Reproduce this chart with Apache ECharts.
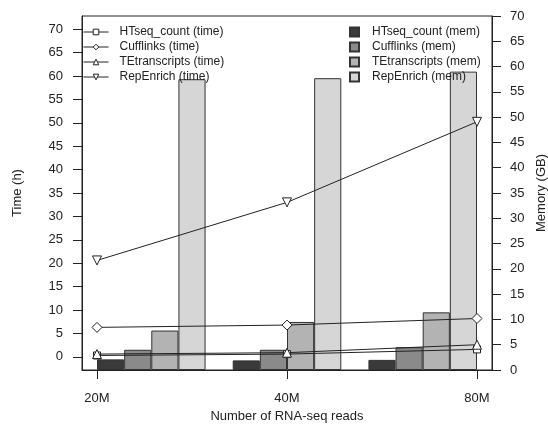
<!DOCTYPE html>
<html>
<head>
<meta charset="utf-8">
<script src="https://cdn.jsdelivr.net/npm/echarts@6/dist/echarts.min.js"></script>
<style>
  html, body { margin: 0; padding: 0; background: #fff; }
  #main { width: 548px; height: 429px; }
</style>
</head>
<body>
<div id="main"></div>
<script>
// reads on the x axis
var readLabels = ['20M', '40M', '80M'];

// running time (h)
var timeHTseq = [0.3, 0.6, 1.6];
var timeCufflinks = [6.3, 6.8, 8.2];
var timeTEtranscripts = [0.6, 0.9, 2.6];
var timeRepEnrich = [20.6, 33.0, 50.2];

// memory (GB)
var memHTseq = [2.1, 1.9, 2.0];
var memCufflinks = [4.0, 4.0, 4.5];
var memTEtranscripts = [7.8, 9.5, 11.4];
var memRepEnrich = [57.5, 57.7, 59.0];

var timeTicks = [0, 5, 10, 15, 20, 25, 30, 35, 40, 45, 50, 55, 60, 65, 70];

var FONT = 'Liberation Sans, Arial, sans-serif';
var INK = '#222';

// bar slots: 4 bars per group, one empty slot between groups
var PER_GROUP = 4;
var STEP = PER_GROUP + 1;
var nGroups = readLabels.length;
var lastSlot = (nGroups - 1) * STEP + PER_GROUP;
function slotX(g, i) { return g * STEP + i + 0.5; }
// line points: left edge of first group, centre of middle, right edge of last
var linePos = readLabels.map(function (r, g) {
    return g * lastSlot / (nGroups - 1);
});
var pad = 15 / 27.143;

function barSeries(name, values, idx, color) {
    return {
        name: name,
        type: 'bar',
        xAxisIndex: 0,
        yAxisIndex: 1,
        barWidth: 27.14,
        barGap: '-100%',
        z: 2,
        itemStyle: { color: color, borderColor: '#333', borderWidth: 1 },
        data: values.map(function (v, g) { return [slotX(g, idx), v]; })
    };
}

function lineSeries(name, values, symbol, size) {
    return {
        name: name,
        type: 'line',
        xAxisIndex: 0,
        yAxisIndex: 0,
        symbol: symbol,
        symbolSize: size,
        z: 5,
        lineStyle: { color: INK, width: 1 },
        itemStyle: { color: '#fff', borderColor: INK, borderWidth: 1 },
        data: values.map(function (v, k) { return [linePos[k], v]; })
    };
}

var option = {
    animation: false,
    textStyle: { fontFamily: FONT },
    grid: {
        left: 82, right: 56, top: 16, bottom: 59,
        containLabel: false,
        outerBoundsMode: 'none',
        show: true, borderColor: INK, borderWidth: 1
    },
    legend: [
        {
            orient: 'vertical', left: 83, top: 26, padding: 0,
            itemWidth: 25, itemHeight: 7, itemGap: 3,
            lineStyle: { width: 1 },
            itemStyle: { borderWidth: 1 },
            textStyle: { fontSize: 12, color: INK, lineHeight: 12, padding: [0, 0, 0, 6] },
            data: ['HTseq_count (time)', 'Cufflinks (time)', 'TEtranscripts (time)', 'RepEnrich (time)']
        },
        {
            orient: 'vertical', left: 349, top: 26, padding: 0,
            itemWidth: 9, itemHeight: 9, itemGap: 3, icon: 'rect',
            textStyle: { fontSize: 12, color: INK, lineHeight: 12, padding: [0, 0, 0, 8] },
            data: ['HTseq_count (mem)', 'Cufflinks (mem)', 'TEtranscripts (mem)', 'RepEnrich (mem)']
        }
    ],
    xAxis: {
        type: 'value',
        min: -pad,
        max: lastSlot + pad,
        name: 'Number of RNA-seq reads',
        nameLocation: 'middle',
        nameGap: 40,
        nameTextStyle: { fontSize: 13, color: INK },
        axisLine: { show: true, onZero: false, lineStyle: { color: INK } },
        axisTick: { show: true, length: 9, customValues: linePos, lineStyle: { color: INK } },
        axisLabel: {
            customValues: linePos, margin: 22, fontSize: 13, color: INK,
            formatter: function (v) { return readLabels[linePos.indexOf(v)]; }
        },
        splitLine: { show: false }
    },
    yAxis: [
        {
            type: 'value',
            position: 'left',
            min: -2.8,
            max: 72.8,
            name: 'Time (h)',
            nameLocation: 'middle',
            nameRotate: 90,
            nameGap: 58,
            nameTextStyle: { fontSize: 13, color: INK },
            axisLine: { show: true, onZero: false, lineStyle: { color: INK } },
            axisTick: { show: true, length: 9, customValues: timeTicks, lineStyle: { color: INK } },
            axisLabel: { customValues: timeTicks, margin: 19, fontSize: 13, color: INK },
            splitLine: { show: false }
        },
        {
            type: 'value',
            position: 'right',
            min: 0,
            max: 70,
            interval: 5,
            name: 'Memory (GB)',
            nameLocation: 'middle',
            nameRotate: 90,
            nameGap: 40,
            nameTextStyle: { fontSize: 13, color: INK },
            axisLine: { show: true, onZero: false, lineStyle: { color: INK } },
            axisTick: { show: true, length: 9, lineStyle: { color: INK } },
            axisLabel: { margin: 18, fontSize: 13, color: INK },
            splitLine: { show: false }
        }
    ],
    series: [
        barSeries('HTseq_count (mem)', memHTseq, 0, '#3a3a3a'),
        barSeries('Cufflinks (mem)', memCufflinks, 1, '#8a8a8a'),
        barSeries('TEtranscripts (mem)', memTEtranscripts, 2, '#b3b3b3'),
        barSeries('RepEnrich (mem)', memRepEnrich, 3, '#d6d6d6'),
        lineSeries('HTseq_count (time)', timeHTseq, 'rect', 7),
        lineSeries('Cufflinks (time)', timeCufflinks, 'diamond', 10),
        lineSeries('TEtranscripts (time)', timeTEtranscripts, 'triangle', 9),
        lineSeries('RepEnrich (time)', timeRepEnrich, 'path://M0,0L10,0L5,9Z', 9)
    ]
};

var chart = echarts.init(document.getElementById('main'), null, { renderer: 'canvas' });
chart.setOption(option);
</script>
</body>
</html>
